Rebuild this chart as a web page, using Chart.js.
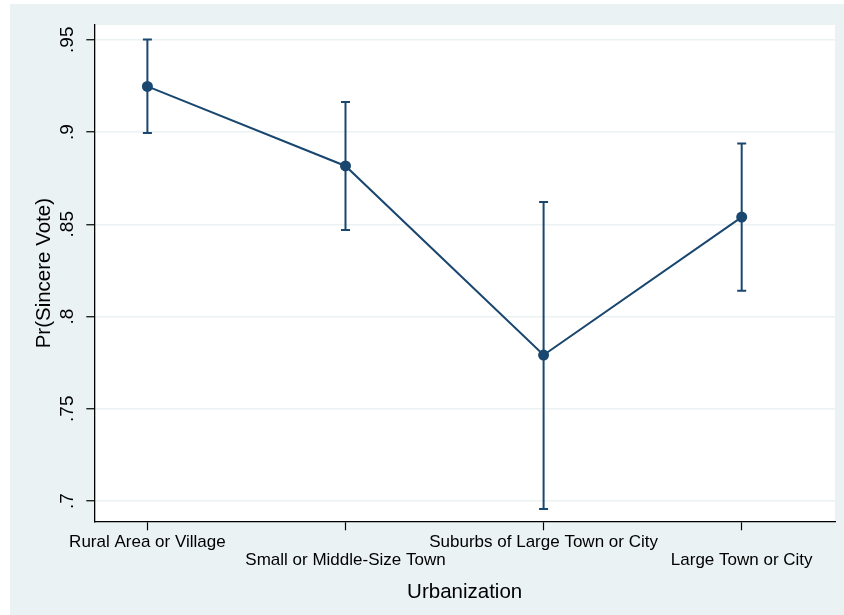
<!DOCTYPE html>
<html>
<head>
<meta charset="utf-8">
<script src="https://cdn.jsdelivr.net/npm/chart.js@4"></script>
<style>
  body { margin: 0; background: #ffffff; }
  #wrap { position: absolute; left: 10px; top: 4px; width: 834px; height: 611px; background: #eaf2f3; }
</style>
</head>
<body>
<div id="wrap"><canvas id="chart" width="834" height="611"></canvas></div>
<script>
// categories and values
const categories = ["Rural Area or Village", "Small or Middle-Size Town", "Suburbs of Large Town or City", "Large Town or City"];
const catPositions = [1, 2, 3, 4];
const probValues = [0.9247, 0.8816, 0.7791, 0.8539];
const lowerValues = [0.8994, 0.8469, 0.6957, 0.8139];
const upperValues = [0.9502, 0.9162, 0.8621, 0.8938];
const yTicks = [0.7, 0.75, 0.8, 0.85, 0.9, 0.95];
const yTickLabels = [".7", ".75", ".8", ".85", ".9", ".95"];

const navy = "#1a476f";
const fontFamily = "'Liberation Sans', Arial, sans-serif";

// white plot region on the bluish-gray graph region
const plotBackground = {
  id: "plotBackground",
  beforeDraw(chart) {
    const {ctx, chartArea} = chart;
    ctx.save();
    ctx.fillStyle = "#ffffff";
    ctx.fillRect(chartArea.left, chartArea.top, chartArea.right - chartArea.left, chartArea.bottom - chartArea.top);
    ctx.restore();
  }
};

// capped error bars drawn through the chart's scales
const errorBars = {
  id: "errorBars",
  beforeDatasetsDraw(chart) {
    const {ctx} = chart;
    const xs = chart.scales.x;
    const ys = chart.scales.y;
    ctx.save();
    ctx.strokeStyle = navy;
    ctx.lineWidth = 2;
    catPositions.forEach((pos, i) => {
      const x = xs.getPixelForValue(pos);
      const yLo = ys.getPixelForValue(lowerValues[i]);
      const yHi = ys.getPixelForValue(upperValues[i]);
      ctx.beginPath();
      ctx.moveTo(x, yLo);
      ctx.lineTo(x, yHi);
      ctx.moveTo(x - 4.5, yLo);
      ctx.lineTo(x + 4.5, yLo);
      ctx.moveTo(x - 4.5, yHi);
      ctx.lineTo(x + 4.5, yHi);
      ctx.stroke();
    });
    ctx.restore();
  }
};

new Chart(document.getElementById("chart"), {
  type: "line",
  data: {
    datasets: [{
      data: catPositions.map((pos, i) => ({x: pos, y: probValues[i]})),
      borderColor: navy,
      backgroundColor: navy,
      borderWidth: 2,
      pointRadius: 5.5,
      pointBorderWidth: 0,
      pointBackgroundColor: navy,
      tension: 0
    }]
  },
  options: {
    responsive: false,
    animation: false,
    layout: { padding: { top: 21, right: 9, left: 0, bottom: 0 } },
    plugins: { legend: { display: false }, tooltip: { enabled: false } },
    scales: {
      x: {
        type: "linear",
        min: 0.732,
        max: 4.471,
        afterBuildTicks: axis => { axis.ticks = catPositions.map(v => ({value: v})); },
        afterFit: axis => { axis.height = 93.7; },
        ticks: {
          autoSkip: false,
          maxRotation: 0,
          padding: 3,
          color: "#000",
          font: { family: fontFamily, size: 17, lineHeight: 1.05 },
          callback: (v, i) => i % 2 === 1 ? ["", categories[i]] : categories[i]
        },
        grid: { drawOnChartArea: false, drawTicks: true, tickLength: 9, tickColor: "#000", tickWidth: 1.2 },
        border: { color: "#000", width: 1.3 },
        title: {
          display: true,
          text: "Urbanization",
          color: "#000",
          font: { family: fontFamily, size: 20.5, lineHeight: 1 },
          padding: { top: 0, bottom: 12 }
        }
      },
      y: {
        type: "linear",
        min: 0.689,
        max: 0.958,
        afterBuildTicks: axis => { axis.ticks = yTicks.map(v => ({value: v})); },
        afterFit: axis => { axis.width = 84.3; },
        ticks: {
          minRotation: 90,
          maxRotation: 90,
          crossAlign: "center",
          padding: 5,
          color: "#000",
          font: { family: fontFamily, size: 19 },
          callback: (v, i) => yTickLabels[i]
        },
        grid: { color: "#eaf2f3", lineWidth: 1.5, drawTicks: true, tickLength: 8, tickColor: "#000", tickWidth: 1.2 },
        border: { color: "#000", width: 1.3 },
        title: {
          display: true,
          text: "Pr(Sincere Vote)",
          color: "#000",
          font: { family: fontFamily, size: 20.5, lineHeight: 1 },
          padding: { top: 24.5, bottom: 0 }
        }
      }
    }
  },
  plugins: [plotBackground, errorBars]
});
</script>
</body>
</html>
